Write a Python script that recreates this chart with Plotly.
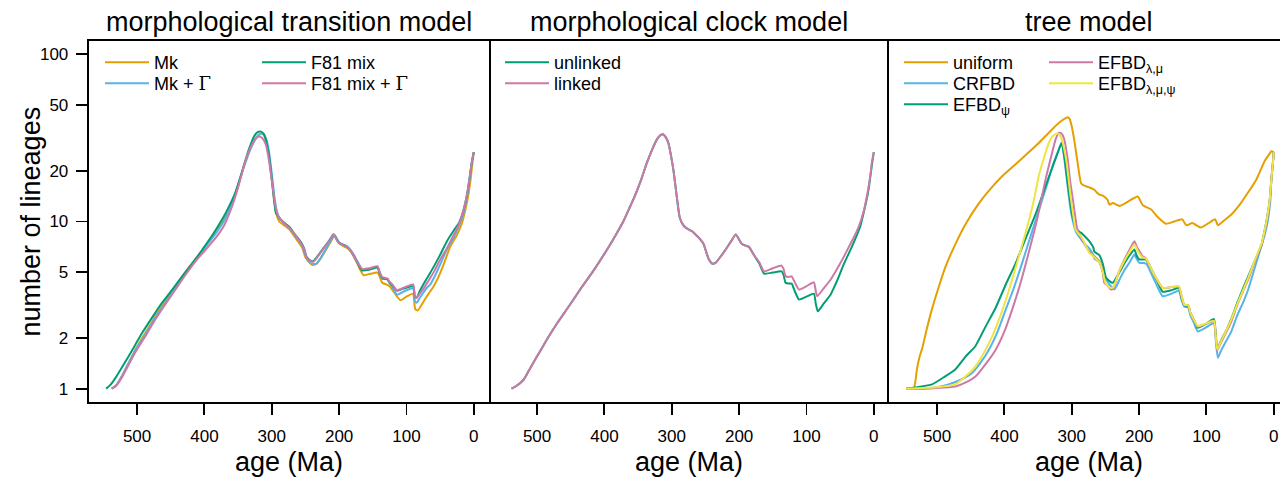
import plotly.graph_objects as go

# ---------------- data (age in Ma, number of lineages) ----------------
# Panel 1: morphological transition model
mk_pts = [(538,1.0),(531,1.05),(522,1.2),(503,1.7),(488,2.15),(473,2.7),(458,3.35),(443,4.1),(428,5.0),
          (413,6.0),(401,6.8),(388,8.2),(375,9.7),(362,12.3),(352,15.3),(342,21.0),(332,27.5),(323,32.0),
          (317,33.5),(313,33.3),(309,31.0),(305,26.0),(301,19.5),(297,14.0),(293,11.0),(289,10.0),(280,9.4),
          (273,8.9),(266,8.1),(260,7.5),(255,7.0),(250,6.1),(245.6,5.78),(240,5.5),(234,5.55),(228,5.95),
          (220,6.7),(213,7.5),(207,8.2),(203,7.7),(199,7.35),(193,7.1),(187,6.9),(180,6.4),(173,5.6),
          (163.8,4.77),(155,4.85),(143,4.95),(140,4.7),(136,4.3),(130,4.2),(125,4.1),(120,3.85),(109,3.38),
          (100,3.55),(90.4,3.7),(87,3.0),(83.4,2.93),(75,3.3),(68,3.65),(59.6,4.1),(52,4.7),(45,5.5),
          (34.8,7.1),(25,8.3),(17.5,9.8),(12,12.0),(8,14.5),(5,17.5),(2.5,21.5),(0,26.0)]
mk_gamma_pts = [(538,1.0),(531,1.05),(522,1.2),(503,1.68),(488,2.1),(473,2.65),(458,3.25),(443,4.0),(428,4.9),
                (413,5.95),(398,7.1),(383,8.5),(370,10.2),(360,12.6),(350,16.5),(340,22.0),(330,28.0),(322,32.0),
                (316,33.6),(312,33.3),(308,31.0),(304,26.0),(300,19.5),(296,14.0),(292,11.3),(288,10.4),(280,9.7),
                (273,9.1),(266,8.3),(260,7.7),(255,7.2),(250,6.3),(246,5.8),(240,5.6),(234,5.6),(228,6.0),
                (220,6.8),(213,7.6),(207,8.3),(203,7.8),(199,7.4),(193,7.2),(187,7.0),(180,6.5),(173,5.8),
                (165,5.15),(155,5.2),(143,5.35),(140,4.95),(136,4.55),(128,4.5),(125,4.3),(121,4.05),(114,3.65),
                (102,3.85),(90,3.98),(87.5,3.35),(85,3.26),(80,3.5),(75,3.75),(70,4.0),(64.6,4.2),(58,4.7),
                (52,5.3),(46,6.0),(40,6.8),(30,8.0),(22,9.4),(15,11.3),(10,14.0),(6,18.0),(3,22.5),(0,26.0)]
f81_pts = [(546,1.0),(540,1.05),(532,1.16),(522,1.35),(512.5,1.56),(503,1.82),(492.6,2.15),(478,2.65),(463,3.26),
           (448,3.9),(433,4.7),(418,5.6),(403,6.8),(388,8.3),(373.6,10.3),(364,12.2),(354,14.9),(344,20.0),
           (334,27.0),(326,32.5),(321,34.3),(316,34.5),(312,33.5),(308,30.0),(304,24.6),(299,16.5),(294,11.3),
           (290,10.7),(287,10.3),(280,9.7),(273,9.2),(266,8.4),(260.5,7.9),(255.6,7.4),(252,6.9),(248,6.1),
           (243,5.85),(238,5.8),(230,6.35),(223,6.95),(215,7.65),(208.4,8.4),(204,7.95),(201,7.5),(195,7.3),
           (188.6,7.1),(182,6.6),(175,5.9),(166,5.1),(155,5.15),(143,5.3),(140,4.95),(136,4.6),(128,4.5),
           (125,4.3),(121,4.15),(114,3.85),(102,4.0),(90,4.1),(87.5,3.55),(85,3.49),(80,3.85),(75,4.2),
           (70,4.55),(64.6,4.93),(58,5.5),(52,6.1),(46,6.8),(40,7.6),(30,8.8),(22,9.8),(15,11.8),(10,14.5),
           (6,18.5),(3,22.5),(0,26.0)]
f81_gamma_pts = [(537,1.0),(531,1.04),(522,1.18),(503,1.64),(488,2.05),(473,2.59),(458,3.2),(443,3.92),(428,4.8),
                 (413,5.8),(398,6.8),(383,8.0),(370,9.6),(360,12.0),(350,16.0),(340,22.5),(330,28.5),(324,31.3),
                 (319,32.2),(314,31.5),(309,29.0),(304,23.0),(299,16.5),(294,12.0),(290,10.7),(287,10.3),(280,9.6),
                 (273,9.1),(266,8.4),(260.5,7.8),(255.6,7.3),(252,6.8),(248,6.0),(243,5.8),(238,5.75),(230,6.3),
                 (223,6.9),(215,7.6),(208.4,8.37),(204,7.9),(201,7.47),(195,7.3),(188.6,7.1),(182,6.6),(175,5.9),
                 (166,5.2),(155,5.25),(143,5.4),(140,5.0),(136,4.65),(128,4.55),(125,4.35),(121,4.2),(114,3.88),
                 (102,4.05),(90,4.2),(87.5,3.55),(85,3.49),(80,3.7),(75,3.95),(70,4.25),(64.6,4.6),(58,5.1),
                 (52,5.7),(46,6.3),(40,6.9),(30,8.3),(22,9.6),(15,11.8),(10,14.5),(6,18.5),(3,22.5),(0,26.0)]

# Panel 2: morphological clock model
unlinked_pts = [(538,1.0),(532,1.03),(520,1.13),(510,1.33),(500,1.56),(485,1.98),(470,2.47),(453,3.1),(436,3.92),
                (416,5.1),(396,6.8),(384,8.2),(372,10.0),(363,12.0),(354,14.5),(345,18.0),(337,22.4),(329,27.0),
                (322,31.0),(317,32.8),(313,33.3),(309,32.0),(305,29.5),(301,24.6),(297,19.6),(292,13.5),(288,10.5),
                (282,9.4),(276,9.0),(270,8.75),(264,8.3),(257.4,7.8),(252.5,7.3),(249,6.6),(245,5.94),(240,5.6),
                (235,5.66),(227,6.2),(220,6.8),(212,7.6),(205,8.37),(200,7.8),(195.5,7.3),(185.5,7.05),(178,6.3),
                (170,5.6),(163,4.88),(150,4.95),(137,5.03),(134,4.8),(131,4.3),(126,4.25),(122,4.25),(117,3.8),
                (111,3.41),(100,3.55),(89,3.7),(86,3.2),(83,2.9),(75,3.2),(64,3.66),(57,4.2),(50,4.9),(45,5.5),
                (39,6.2),(30,7.45),(20,9.37),(15,11.3),(9.4,14.3),(7,16.3),(3,21.5),(0,26.0)]
linked_pts = [(538,1.0),(532,1.03),(520,1.13),(510,1.33),(500,1.56),(485,1.98),(470,2.47),(453,3.1),(436,3.92),
              (416,5.1),(396,6.8),(384,8.2),(372,10.0),(363,12.0),(354,14.5),(345,18.0),(337,22.4),(329,27.0),
              (322,31.0),(317,32.8),(313,33.3),(309,32.0),(305,29.5),(301,24.6),(297,19.6),(292,13.5),(288,10.5),
              (282,9.4),(276,9.0),(270,8.75),(264,8.3),(257.4,7.8),(252.5,7.3),(249,6.6),(245,5.94),(240,5.6),
              (235,5.66),(227,6.2),(220,6.8),(212,7.6),(205,8.37),(200,7.8),(195.5,7.3),(185.5,7.05),(178,6.3),
              (170,5.7),(163,5.03),(150,5.25),(137,5.45),(134,5.2),(131,4.72),(126,4.66),(122,4.7),(117,4.3),
              (111,3.92),(100,4.1),(89,4.33),(86,3.8),(84,3.57),(75,3.95),(64,4.5),(57,5.0),(50,5.6),(45,6.1),
              (39,6.8),(30,8.0),(22,9.4),(15,11.5),(9.4,14.8),(5,19.0),(3,22.4),(0,26.0)]

# Panel 3: tree model
uniform_pts = [(546,1.0),(535,1.0),(532,1.12),(530,1.3),(526,1.55),(522,1.75),(515,2.3),(507.5,3.0),(498,4.0),
               (488,5.3),(473,7.3),(458,9.6),(440,12.5),(423,15.3),(403,18.7),(383.5,22.0),(366,25.5),(349,29.5),
               (334,34.0),(319,39.0),(309,41.5),(306,42.0),(303,41.0),(300,37.0),(296.5,31.0),(293,25.0),
               (289.5,20.0),(286.3,17.0),(283,16.5),(274,16.0),(266.5,15.5),(262,14.8),(259,14.5),(254,14.3),
               (247,13.5),(244,12.6),(239,12.9),(229,12.4),(216,13.2),(202,14.1),(197,13.0),(194.5,12.5),
               (182,11.8),(172,10.6),(160,9.7),(148,10.0),(136,10.3),(131,9.6),(128.6,9.5),(121,9.8),(108.7,9.2),
               (98,9.7),(87,10.3),(83,9.5),(73,10.2),(63,11.0),(50,12.7),(38.3,14.9),(26,17.8),(13.5,23.0),
               (6,25.5),(3.6,26.3),(0,26.0)]
crfbd_pts = [(546,1.0),(520,1.0),(500,1.02),(483,1.06),(465,1.13),(448,1.24),(436,1.42),(423,1.71),(410,2.2),
             (398,2.97),(386,4.0),(374,5.6),(361,8.2),(349,11.6),(337,16.5),(326,23.0),(320,26.5),(315,29.6),
             (311,23.5),(306,16.0),(302,12.0),(299,10.3),(294,8.7),(289,8.1),(286,7.8),(280,7.3),(274,6.9),
             (268,6.3),(266.5,6.0),(259,5.7),(254,5.0),(251.6,4.7),(244,4.2),(236.7,3.92),(229,4.5),(222,5.1),
             (214,5.7),(207,6.34),(203,5.9),(199.5,5.66),(189.6,5.6),(180,4.7),(172,4.0),(165,3.57),(152,3.7),
             (141,3.85),(137,3.4),(133,3.1),(127,3.05),(124,2.75),(119,2.5),(113,2.2),(100,2.33),(89,2.47),
             (86,1.9),(83,1.53),(78,1.7),(70,1.95),(63,2.2),(55,2.7),(46,3.25),(38,3.92),(30,5.0),(23,6.2),
             (18,7.2),(13.5,8.3),(8.5,10.3),(5,13.5),(3.6,17.8),(1.5,22.0),(0,26.0)]
efbd_psi_pts = [(546,1.0),(530,1.02),(507.5,1.06),(490,1.17),(473,1.3),(458,1.55),(443,1.8),(428,2.35),(413,3.05),
                (398,4.2),(383.5,5.6),(368,8.0),(354,11.0),(342,15.0),(332,19.5),(322,25.0),(315,29.6),(311,24.5),
                (306,17.0),(302,12.8),(299,10.8),(294,9.1),(289,8.7),(286,8.55),(280,8.1),(274,7.62),(268,7.0),
                (266.5,6.6),(259,6.3),(254,5.6),(249,4.6),(244,4.4),(239,4.3),(230,4.9),(222,5.6),(215,6.2),
                (207,6.8),(204,6.3),(200,5.93),(190,5.93),(180,5.0),(172,4.3),(165,3.8),(152,3.88),(141,4.0),
                (137,3.5),(133,3.15),(127,3.12),(124,2.85),(119,2.6),(113,2.31),(100,2.45),(89,2.61),(86,2.1),
                (84,1.72),(78,1.95),(70,2.25),(63,2.62),(55,3.2),(46,3.95),(38,4.7),(30,5.6),(23,6.5),(18,7.3),
                (13.5,8.9),(10,10.5),(6,13.5),(3.6,17.8),(1.5,22.0),(0,26.0)]
efbd_lm_pts = [(546,1.0),(500,1.01),(473,1.03),(455,1.1),(443,1.18),(428,1.4),(413,1.71),(400,2.2),(388.5,2.97),
               (376,4.3),(364,6.5),(351,10.5),(339,17.8),(330,25.0),(324,31.0),(319,34.0),(315,33.5),(311.6,31.5),
               (306,23.5),(302.5,17.5),(299,14.1),(295,10.8),(291.7,8.95),(286,8.0),(280,7.2),(274,6.6),(270,6.4),
               (266.5,6.2),(259,5.8),(254,5.0),(251.6,4.3),(246,4.1),(241.7,3.92),(238,4.0),(230,5.0),(222,5.9),
               (214,6.8),(207,7.62),(203,7.0),(199.5,6.64),(195,6.2),(189.6,6.0),(180,5.0),(172,4.4),(165,4.0),
               (152,4.05),(141,4.08),(137,3.6),(133,3.18),(127,3.15),(124,2.85),(119,2.6),(113,2.36),(100,2.45),
               (89,2.53),(86,2.0),(84,1.7),(78,1.9),(70,2.2),(63,2.53),(55,3.1),(46,3.8),(38,4.5),(30,5.5),
               (23,6.5),(18,7.3),(13.5,8.7),(10,10.3),(6,13.3),(3.6,17.8),(1.5,22.0),(0,26.0)]
efbd_lmp_pts = [(546,1.0),(500,1.02),(473,1.06),(458,1.18),(443,1.36),(430,1.65),(418,2.06),(405,2.8),(393,3.92),
                (381,5.7),(368.6,8.55),(358,12.5),(349,18.7),(340,25.0),(334,29.6),(328,32.5),(321.5,33.6),
                (317,32.5),(314,30.2),(308,23.0),(301.7,14.1),(298,11.0),(294.2,8.95),(286,8.1),(280,7.3),
                (274,6.5),(270,6.3),(266.5,6.1),(259,5.7),(254,5.0),(250,4.3),(246,4.1),(242,4.0),(238,4.05),
                (230,5.0),(222,5.8),(214,6.6),(207,7.3),(203,6.8),(199.5,6.4),(195,6.1),(189.6,6.0),(180,5.0),
                (172,4.4),(165,4.0),(152,4.05),(141,4.1),(137,3.6),(133,3.18),(127,3.15),(124,2.85),(119,2.6),
                (113,2.36),(100,2.46),(89,2.55),(86,2.02),(84,1.72),(78,1.93),(70,2.25),(63,2.6),(55,3.15),
                (46,3.85),(38,4.6),(30,5.6),(23,6.6),(18,7.4),(13.5,8.9),(10,10.5),(6,13.5),(3.6,17.8),(1.5,22.0),
                (0,26.0)]

panel_titles = ["morphological transition model", "morphological clock model", "tree model"]
x_tick_vals = [500, 400, 300, 200, 100, 0]
y_tick_vals = [1, 2, 5, 10, 20, 50, 100]
y_tick_text = ["1", "2", "5", "10", "20", "50", "100"]

# ---------------- styling ----------------
FONT = "Liberation Sans, Arial, Helvetica, sans-serif"
ORANGE, SKY, GREEN, PINK, YELLOW = "#E69F00", "#56B4E9", "#009E73", "#CC79A7", "#F0E442"
W, H = 1280, 477
PANEL_W = 400.0
LEFT = 88.6
TOP, BOTTOM = 41.0, 402.0
X_MIN, X_MAX = -22.0, 572.0
UNIT = PANEL_W / (X_MAX - X_MIN)
FRAME_W = 1.9
GAMMA = "<span style='font-family:DejaVu Serif'>Γ</span>"

# (points, legend label, colour, axis suffix, legend key line-start x, legend row centre y)
series = [
    (mk_pts, "Mk", ORANGE, "", 105, 63),
    (mk_gamma_pts, "Mk + " + GAMMA, SKY, "", 105, 84),
    (f81_pts, "F81 mix", GREEN, "", 262, 63),
    (f81_gamma_pts, "F81 mix + " + GAMMA, PINK, "", 262, 84),
    (unlinked_pts, "unlinked", GREEN, "2", 505, 63),
    (linked_pts, "linked", PINK, "2", 505, 84),
    (uniform_pts, "uniform", ORANGE, "3", 904, 63),
    (crfbd_pts, "CRFBD", SKY, "3", 904, 84),
    (efbd_psi_pts, "EFBD<sub>ψ</sub>", GREEN, "3", 904, 105),
    (efbd_lm_pts, "EFBD<sub>λ,μ</sub>", PINK, "3", 1049, 63),
    (efbd_lmp_pts, "EFBD<sub>λ,μ,ψ</sub>", YELLOW, "3", 1049, 84),
]

fig = go.Figure()
layout = dict(
    width=W, height=H, autosize=False,
    margin=dict(l=0, r=0, t=0, b=0, pad=0),
    paper_bgcolor="white", plot_bgcolor="white",
    template="none",
    font=dict(family=FONT, color="black", size=17),
    showlegend=True,
)

for k, (pts, name, color, ax, lx, ly) in enumerate(series):
    ages = [p[0] for p in pts]
    counts = [p[1] for p in pts]
    key = "legend" if k == 0 else "legend%d" % (k + 1)
    fig.add_trace(go.Scatter(
        x=ages, y=counts, mode="lines", name=name,
        line=dict(color=color, width=2, shape="spline", smoothing=0.5),
        xaxis="x" + ax, yaxis="y" + ax, legend=key, showlegend=True,
    ))
    layout[key] = dict(bgcolor="rgba(0,0,0,0)", borderwidth=0,
                       font=dict(family=FONT, size=18, color="black"),
                       xanchor="left", yanchor="top", orientation="v", itemwidth=44,
                       x=(lx - 5) / W, y=1 - (ly - 19) / H)

ydom = [1 - BOTTOM / H, 1 - TOP / H]
for i in range(3):
    sfx = "" if i == 0 else str(i + 1)
    x0 = LEFT + i * PANEL_W
    x1 = min(x0 + PANEL_W, W)
    xr_right = X_MAX - (x1 - x0) / UNIT
    layout["xaxis" + sfx] = dict(
        domain=[x0 / W, x1 / W], range=[X_MAX, xr_right], anchor="y" + sfx,
        showgrid=False, zeroline=False, showline=True, mirror=True,
        linecolor="black", linewidth=FRAME_W,
        tickmode="array", tickvals=x_tick_vals, ticks="outside", ticklen=11,
        tickwidth=FRAME_W, tickcolor="black", ticklabelstandoff=7,
        tickfont=dict(family=FONT, size=17, color="black"), automargin=False,
    )
    layout["yaxis" + sfx] = dict(
        domain=ydom, type="log", range=[-0.08, 2.08], anchor="x" + sfx,
        showgrid=False, zeroline=False, showline=(i != 1), mirror=(i == 0),
        linecolor="black", linewidth=FRAME_W,
        tickmode="array", tickvals=y_tick_vals, ticktext=y_tick_text,
        ticks="outside" if i == 0 else "", ticklen=11, tickwidth=FRAME_W, tickcolor="black",
        showticklabels=(i == 0), ticklabelstandoff=4,
        tickfont=dict(family=FONT, size=17, color="black"), automargin=False,
    )

annotations = []
for i, title in enumerate(panel_titles):
    cx = (LEFT + i * PANEL_W + PANEL_W / 2) / W
    annotations.append(dict(text=title, x=cx, y=1 - 22 / H, xref="paper", yref="paper",
                            xanchor="center", yanchor="middle", showarrow=False,
                            font=dict(family=FONT, size=27, color="black")))
    annotations.append(dict(text="age (Ma)", x=cx, y=1 - 462 / H, xref="paper", yref="paper",
                            xanchor="center", yanchor="middle", showarrow=False,
                            font=dict(family=FONT, size=27, color="black")))
annotations.append(dict(text="number of lineages", x=31 / W, y=1 - 221.5 / H, xref="paper", yref="paper",
                        xanchor="center", yanchor="middle", textangle=-90, showarrow=False,
                        font=dict(family=FONT, size=27, color="black")))
layout["annotations"] = annotations

fig.update_layout(**layout)
fig.write_html("out.html",
               config={"displayModeBar": False, "staticPlot": True},
               post_script="document.body.style.margin='0';document.body.style.padding='0';"
                           "document.body.style.overflow='hidden';")
